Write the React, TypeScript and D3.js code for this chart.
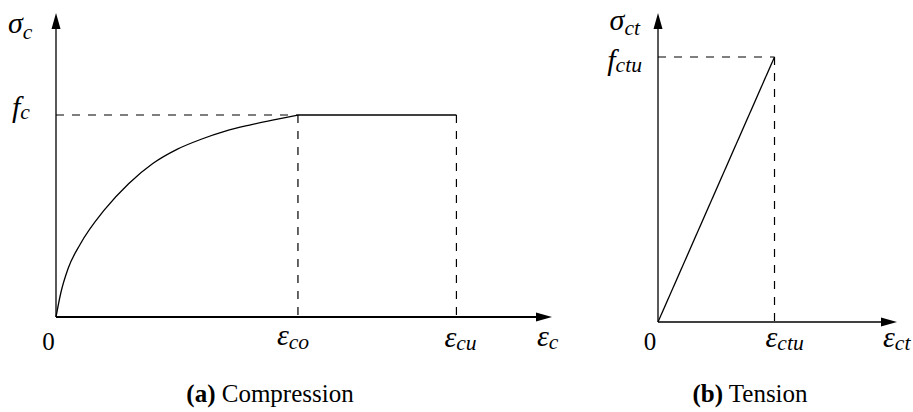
import React from "react";
import * as d3 from "d3";

// Compression branch: strain (‰) and stress (fraction of f_c) along the rising curve
const compStrain = [0, 0.04, 0.1, 0.2, 0.4, 0.6, 0.8, 1.0, 1.2, 1.4, 1.6, 1.8, 2.0];
const compStress = [0, 0.12, 0.24, 0.36, 0.53, 0.66, 0.76, 0.83, 0.88, 0.92, 0.95, 0.976, 1.0];
const epsCo = 2.0;
const epsCu = 3.31;
const fc = 1.0;

// Tension branch: linear up to cracking
const tensStrain = [0, 1.0];
const tensStress = [0, 1.0];
const epsCtu = 1.0;
const fctu = 1.0;

const W = 913;
const H = 412;
const FONT = "Liberation Serif";

function Arrow({ x, y, dir }: { x: number; y: number; dir: "up" | "right" }) {
  const L = 16, w = 4.5;
  const pts =
    dir === "up"
      ? [[x, y], [x - w, y + L], [x + w, y + L]]
      : [[x, y], [x - L, y - w], [x - L, y + w]];
  return <polygon points={pts.map((p) => p.join(",")).join(" ")} fill="#000" />;
}

function Sym({ x, y, base, sub, size = 30, anchor = "start", subDy = 0.2 }: any) {
  return (
    <text x={x} y={y} fontFamily={FONT} fontSize={size} fontStyle="italic" textAnchor={anchor}>
      {base}
      <tspan fontSize={size * 0.72} dy={size * subDy}>{sub}</tspan>
    </text>
  );
}

export default function App() {
  // Left panel scales
  const xL = d3.scaleLinear().domain([0, 4.1]).range([56, 552]);
  const yL = d3.scaleLinear().domain([0, 1.505]).range([317, 13]);
  // Right panel scales
  const xR = d3.scaleLinear().domain([0, 2.0513]).range([658, 897]);
  const yR = d3.scaleLinear().domain([0, 1.166]).range([322, 13]);

  const comp = compStrain.map((e, i) => [e, compStress[i] * fc] as [number, number]);
  const compLine = d3
    .line<[number, number]>()
    .x((d) => xL(d[0]))
    .y((d) => yL(d[1]))
    .curve(d3.curveMonotoneX)(comp) as string;

  const tens = tensStrain.map((e, i) => [e * epsCtu, tensStress[i] * fctu] as [number, number]);
  const tensLine = d3
    .line<[number, number]>()
    .x((d) => xR(d[0]))
    .y((d) => yR(d[1]))(tens) as string;

  const dash = "8,8";

  return (
    <svg width={W} height={H} style={{ position: "absolute", left: 0, top: 0, background: "#fff" }}>
      {/* Compression diagram */}
      <line x1={xL(0)} y1={yL(0)} x2={xL(0)} y2={yL(1.505) + 10} stroke="#000" strokeWidth={1.3} />
      <Arrow x={xL(0)} y={yL(1.505)} dir="up" />
      <line x1={xL(0)} y1={yL(0)} x2={xL(4.1) - 10} y2={yL(0)} stroke="#000" strokeWidth={2} />
      <Arrow x={xL(4.1)} y={yL(0)} dir="right" />
      <line x1={xL(0)} y1={yL(fc)} x2={xL(epsCo)} y2={yL(fc)} stroke="#000" strokeWidth={1.2} strokeDasharray={dash} />
      <line x1={xL(epsCo)} y1={yL(fc)} x2={xL(epsCo)} y2={yL(0)} stroke="#000" strokeWidth={1.2} strokeDasharray={dash} />
      <line x1={xL(epsCu)} y1={yL(fc)} x2={xL(epsCu)} y2={yL(0)} stroke="#000" strokeWidth={1.2} strokeDasharray={dash} />
      <path d={compLine} fill="none" stroke="#000" strokeWidth={1.3} />
      <line x1={xL(epsCo)} y1={yL(fc)} x2={xL(epsCu)} y2={yL(fc)} stroke="#000" strokeWidth={1.3} />

      <Sym x={8} y={33} base="σ" sub="c" />
      <Sym x={12} y={117} base="f" sub="c" subDy={0.08} />
      <text x={48.5} y={350} fontFamily={FONT} fontSize={25} textAnchor="middle">0</text>
      <Sym x={xL(epsCo) - 21} y={345} base="ε" sub="co" subDy={0.12} />
      <Sym x={xL(epsCu) - 12} y={347} base="ε" sub="cu" subDy={0.1} />
      <Sym x={537} y={346} base="ε" sub="c" subDy={0.1} />
      <text x={270} y={402} fontFamily={FONT} fontSize={25} textAnchor="middle">
        <tspan fontWeight="bold">(a)</tspan> Compression
      </text>

      {/* Tension diagram */}
      <line x1={xR(0)} y1={yR(0)} x2={xR(0)} y2={yR(1.166) + 10} stroke="#000" strokeWidth={1.3} />
      <Arrow x={xR(0)} y={yR(1.166)} dir="up" />
      <line x1={xR(0)} y1={yR(0)} x2={xR(2.0513) - 10} y2={yR(0)} stroke="#000" strokeWidth={1.3} />
      <Arrow x={xR(2.0513)} y={yR(0)} dir="right" />
      <line x1={xR(0)} y1={yR(fctu)} x2={xR(epsCtu)} y2={yR(fctu)} stroke="#000" strokeWidth={1.2} strokeDasharray={dash} />
      <line x1={xR(epsCtu)} y1={yR(fctu)} x2={xR(epsCtu)} y2={yR(0)} stroke="#000" strokeWidth={1.2} strokeDasharray={dash} />
      <path d={tensLine} fill="none" stroke="#000" strokeWidth={1.3} />

      <Sym x={xR(0) - 18} y={30} base="σ" sub="ct" anchor="end" subDy={0.15} />
      <Sym x={xR(0) - 16} y={70} base="f" sub="ctu" anchor="end" subDy={0.08} />
      <text x={xR(0) - 8} y={350} fontFamily={FONT} fontSize={25} textAnchor="middle">0</text>
      <Sym x={xR(epsCtu) - 9} y={347} base="ε" sub="ctu" subDy={0.1} />
      <Sym x={883} y={347} base="ε" sub="ct" subDy={0.1} />
      <text x={750} y={402} fontFamily={FONT} fontSize={25} textAnchor="middle">
        <tspan fontWeight="bold">(b)</tspan> Tension
      </text>
    </svg>
  );
}
